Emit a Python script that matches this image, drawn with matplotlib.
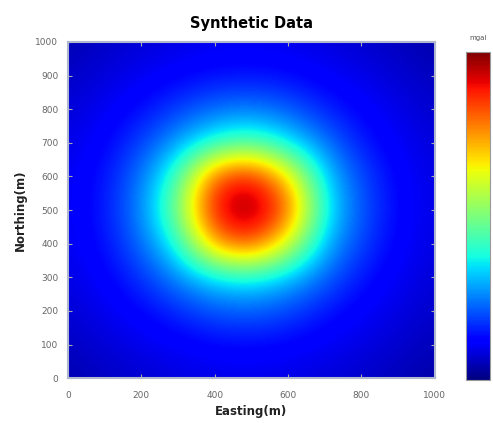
import numpy as np
import matplotlib
matplotlib.use("Agg")
import matplotlib.pyplot as plt

# Grid coordinates (m)
easting = [0, 100, 200, 300, 400, 500, 600, 700, 800, 900, 1000]
northing = [0, 100, 200, 300, 400, 500, 600, 700, 800, 900, 1000]

# Anomaly values (relative 0..1), one row per northing
row_n0 = [0.042, 0.059, 0.072, 0.083, 0.090, 0.092, 0.088, 0.079, 0.067, 0.052, 0.036]
row_n100 = [0.060, 0.078, 0.096, 0.111, 0.126, 0.130, 0.122, 0.106, 0.089, 0.071, 0.052]
row_n200 = [0.075, 0.098, 0.126, 0.164, 0.207, 0.217, 0.193, 0.145, 0.112, 0.088, 0.066]
row_n300 = [0.088, 0.118, 0.173, 0.262, 0.350, 0.378, 0.316, 0.225, 0.143, 0.104, 0.077]
row_n400 = [0.097, 0.137, 0.229, 0.390, 0.760, 0.850, 0.620, 0.308, 0.187, 0.118, 0.085]
row_n500 = [0.101, 0.145, 0.258, 0.500, 0.920, 1.000, 0.830, 0.370, 0.207, 0.125, 0.089]
row_n600 = [0.099, 0.140, 0.238, 0.430, 0.830, 0.900, 0.680, 0.330, 0.193, 0.120, 0.087]
row_n700 = [0.090, 0.122, 0.187, 0.283, 0.391, 0.445, 0.350, 0.243, 0.149, 0.107, 0.079]
row_n800 = [0.077, 0.102, 0.134, 0.183, 0.229, 0.243, 0.214, 0.157, 0.119, 0.092, 0.069]
row_n900 = [0.063, 0.081, 0.101, 0.120, 0.136, 0.140, 0.131, 0.111, 0.094, 0.074, 0.055]
row_n1000 = [0.046, 0.063, 0.077, 0.088, 0.096, 0.098, 0.094, 0.084, 0.071, 0.056, 0.039]

xticks = [0, 200, 400, 600, 800, 1000]
yticks = [0, 100, 200, 300, 400, 500, 600, 700, 800, 900, 1000]

grid = np.array([row_n0, row_n100, row_n200, row_n300, row_n400, row_n500,
                 row_n600, row_n700, row_n800, row_n900, row_n1000])

fig = plt.figure(figsize=(4.93, 4.23), dpi=100)
ax = fig.add_axes([0.138, 0.106, 0.744, 0.795])
dx = (easting[1] - easting[0]) / 2
dy = (northing[1] - northing[0]) / 2
im = ax.imshow(grid, origin="lower", cmap="jet", interpolation="bicubic",
               extent=[easting[0] - dx, easting[-1] + dx, northing[0] - dy, northing[-1] + dy],
               aspect="auto", vmin=0.0, vmax=1.0)
ax.set_xlim(0, 1000)
ax.set_ylim(0, 1000)
ax.set_xticks(xticks)
ax.set_yticks(yticks)
ax.tick_params(direction="in", labelsize=6.5, labelcolor="#666666", color="#aaaaaa",
               length=3, top=True, right=True)
ax.tick_params(axis="x", pad=9)
ax.tick_params(axis="y", pad=7)
for s in ax.spines.values():
    s.set_color("#b0b8d0")
    s.set_linewidth(1.5)
ax.set_title("Synthetic Data", fontsize=10.5, fontweight="bold", pad=10)
ax.set_xlabel("Easting(m)", fontsize=8.5, fontweight="bold", color="#222222", labelpad=4)
ax.set_ylabel("Northing(m)", fontsize=8.5, fontweight="bold", color="#222222", labelpad=6)

cax = fig.add_axes([0.945, 0.102, 0.049, 0.775])
cb = fig.colorbar(im, cax=cax)
cb.set_ticks([])
cb.outline.set_edgecolor("#999999")
cax.set_title("mgal", fontsize=5, color="#555555", pad=9)

fig.savefig("out.png", dpi=100)
